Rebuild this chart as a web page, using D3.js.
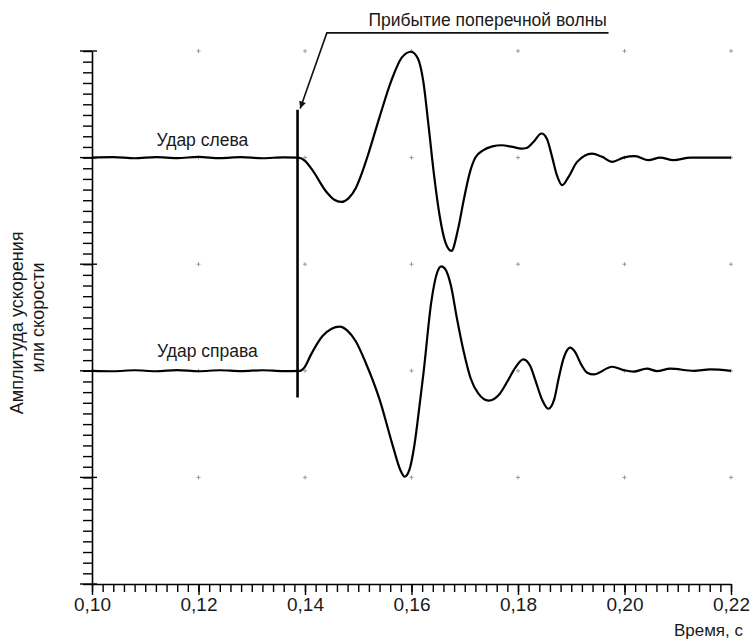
<!DOCTYPE html>
<html>
<head>
<meta charset="utf-8">
<script src="https://cdn.jsdelivr.net/npm/d3@7"></script>
<style>
  body { margin: 0; background: #fff; }
  text { font-family: "Liberation Sans", Arial, sans-serif; fill: #1a1a1a; }
</style>
</head>
<body>
<script>
const width = 756;
const height = 641;
const margin = ({top: 51, right: 25, bottom: 57, left: 92});

// time axis, s
const xTicks = [0.10, 0.12, 0.14, 0.16, 0.18, 0.20, 0.22];
const xTickLabels = ["0,10", "0,12", "0,14", "0,16", "0,18", "0,20", "0,22"];
const yTicks = [0, 1, 2, 3, 4, 5];

// trace offsets on the amplitude axis
const leftBase = 4;
const rightBase = 2;

// "Удар слева"
const leftTime = [0.100, 0.104, 0.108, 0.112, 0.116, 0.120, 0.124, 0.128, 0.132, 0.136, 0.1388,
  0.1400, 0.1414, 0.1440, 0.1455, 0.1468, 0.1482, 0.1496, 0.1508, 0.1518, 0.1540, 0.1562, 0.1582,
  0.1599, 0.1612, 0.1622, 0.1632, 0.1642, 0.1653, 0.1664, 0.1675, 0.1687, 0.1698, 0.1709, 0.1720,
  0.1735, 0.1752, 0.1769, 0.1790, 0.1806, 0.1816, 0.1829, 0.1844, 0.1854, 0.1864, 0.1873, 0.1883,
  0.1895, 0.1911, 0.1939, 0.1958, 0.1977, 0.1998, 0.2020, 0.2045, 0.2067, 0.2092, 0.2124, 0.2160,
  0.2200];
const leftAmp = [0, 0.004, -0.006, 0.005, -0.004, 0.006, -0.005, 0.004, -0.006, 0.003, 0,
  -0.03, -0.118, -0.32, -0.395, -0.416, -0.38, -0.28, -0.13, 0.02, 0.38, 0.72, 0.94,
  0.993, 0.93, 0.72, 0.30, -0.15, -0.55, -0.80, -0.875, -0.68, -0.40, -0.15, 0,
  0.07, 0.105, 0.116, 0.10, 0.085, 0.09, 0.147, 0.226, 0.18, 0.007, -0.165, -0.259,
  -0.18, -0.04, 0.038, 0.007, -0.04, 0, 0.013, -0.024, 0, -0.024, 0, 0,
  0];

// "Удар справа"
const rightTime = [0.100, 0.104, 0.108, 0.112, 0.116, 0.120, 0.124, 0.128, 0.132, 0.136, 0.1390,
  0.1400, 0.1410, 0.1433, 0.1450, 0.1465, 0.1480, 0.1495, 0.1514, 0.1540, 0.1565, 0.1579, 0.1587,
  0.1596, 0.1606, 0.1615, 0.1623, 0.1637, 0.1648, 0.1656, 0.1664, 0.1674, 0.1685, 0.1698, 0.1711,
  0.1725, 0.1745, 0.1765, 0.1780, 0.1795, 0.1810, 0.1823, 0.1832, 0.1845, 0.1857, 0.1868, 0.1876,
  0.1885, 0.1898, 0.1908, 0.1917, 0.1930, 0.1942, 0.1977, 0.1998, 0.2017, 0.2042, 0.2061, 0.2086,
  0.2130, 0.2161, 0.2200];
const rightAmp = [0, -0.004, 0.005, -0.004, 0.006, -0.004, 0.005, -0.003, 0.005, -0.003, 0,
  0.04, 0.14, 0.326, 0.395, 0.414, 0.375, 0.28, 0.076, -0.268, -0.706, -0.93, -0.994,
  -0.93, -0.68, -0.33, 0, 0.64, 0.92, 0.98, 0.95, 0.80, 0.50, 0.18, -0.07,
  -0.21, -0.28, -0.22, -0.10, 0.03, 0.107, 0.044, -0.08, -0.268, -0.356, -0.268, -0.08,
  0.107, 0.217, 0.17, 0.076, -0.018, -0.034, 0.038, 0.007, -0.008, 0.02, -0.003, 0.02,
  0, 0.013, 0];

// arrival of the shear wave
const arrivalTime = 0.1386;
const arrivalSpan = [1.75, 4.45];
const arrowFrom = [0.1441, 5.17];
const arrowTo = [0.1391, 4.46];
const noteEnd = 0.1970;

const svg = d3.select("body")
  .append("svg")
  .attr("width", width)
  .attr("height", height);

svg.append("defs").append("marker")
  .attr("id", "arrow")
  .attr("viewBox", "0 0 10 10")
  .attr("refX", 10)
  .attr("refY", 5)
  .attr("markerWidth", 13)
  .attr("markerHeight", 7)
  .attr("markerUnits", "userSpaceOnUse")
  .attr("orient", "auto")
  .append("path")
  .attr("d", "M0,0L10,5L0,10z")
  .attr("fill", "#111");

const x = d3.scaleLinear()
  .domain([0.10, 0.22])
  .range([margin.left, width - margin.right]);

const y = d3.scaleLinear()
  .domain([0, 5])
  .range([height - margin.bottom, margin.top]);

// grid crosses at major intersections
const cross = [];
xTicks.slice(1).forEach(t => yTicks.slice(1).forEach(v => cross.push([t, v])));
svg.append("g")
  .attr("stroke", "#9a9a9a")
  .attr("stroke-width", 1)
  .selectAll("path")
  .data(cross)
  .join("path")
  .attr("d", d => `M${x(d[0]) - 2},${y(d[1])}h4M${x(d[0])},${y(d[1]) - 2}v4`);

// x axis
const minorX = d3.range(0, 61).map(i => 0.10 + i * 0.002);
svg.append("g")
  .attr("transform", `translate(0,${y(0)})`)
  .call(d3.axisBottom(x).tickValues(minorX).tickSize(8).tickFormat("").tickSizeOuter(0))
  .call(g => g.select(".domain").attr("stroke-width", 1.6))
  .call(g => g.selectAll(".tick line").attr("stroke-width", 1.4));

svg.append("g")
  .attr("transform", `translate(0,${y(0)})`)
  .call(d3.axisBottom(x).tickValues(xTicks).tickSize(11).tickFormat((d, i) => xTickLabels[i]))
  .call(g => g.select(".domain").remove())
  .call(g => g.selectAll(".tick line").attr("stroke-width", 1.4))
  .call(g => g.selectAll(".tick text")
    .attr("y", 14)
    .attr("font-size", 19)
    .attr("font-family", "'Liberation Sans', Arial, sans-serif"));

// y axis
const minorY = d3.range(0, 51).map(i => i * 0.1);
svg.append("g")
  .attr("transform", `translate(${x(0.10)},0)`)
  .call(d3.axisLeft(y).tickValues(minorY).tickSize(9).tickFormat("").tickSizeOuter(0))
  .call(g => g.select(".domain").attr("stroke-width", 1.6))
  .call(g => g.selectAll(".tick line").attr("stroke-width", 1.4));

svg.append("g")
  .attr("stroke", "#000")
  .attr("stroke-width", 1.4)
  .selectAll("line")
  .data(yTicks)
  .join("line")
  .attr("x1", x(0.10) - 12)
  .attr("x2", x(0.10) + 5)
  .attr("y1", d => y(d))
  .attr("y2", d => y(d));

// traces
const line = d3.line()
  .x(d => x(d[0]))
  .y(d => y(d[1]))
  .curve(d3.curveMonotoneX);

const traces = [
  leftTime.map((t, i) => [t, leftBase + leftAmp[i]]),
  rightTime.map((t, i) => [t, rightBase + rightAmp[i]])
];

svg.append("g")
  .selectAll("path")
  .data(traces)
  .join("path")
  .attr("d", line)
  .attr("fill", "none")
  .attr("stroke", "#000")
  .attr("stroke-width", 2.2)
  .attr("stroke-linejoin", "round");

// arrival marker
svg.append("line")
  .attr("x1", x(arrivalTime)).attr("x2", x(arrivalTime))
  .attr("y1", y(arrivalSpan[1])).attr("y2", y(arrivalSpan[0]))
  .attr("stroke", "#000")
  .attr("stroke-width", 2.6);

svg.append("path")
  .attr("d", `M${x(noteEnd)},${y(arrowFrom[1])}H${x(arrowFrom[0])}L${x(arrowTo[0])},${y(arrowTo[1])}`)
  .attr("fill", "none")
  .attr("stroke", "#111")
  .attr("stroke-width", 1.6)
  .attr("marker-end", "url(#arrow)");

svg.append("text")
  .attr("x", (x(arrowFrom[0]) + x(noteEnd)) / 2 + 20)
  .attr("y", y(arrowFrom[1]) - 7)
  .attr("text-anchor", "middle")
  .attr("font-size", 17.5)
  .text("Прибытие поперечной волны");

// trace labels
svg.append("text")
  .attr("x", x(0.1121))
  .attr("y", y(4.11))
  .attr("font-size", 17.5)
  .text("Удар слева");

svg.append("text")
  .attr("x", x(0.1122))
  .attr("y", y(2.13))
  .attr("font-size", 17.5)
  .text("Удар справа");

// axis titles
svg.append("text")
  .attr("transform", `translate(23,${y(2.45)}) rotate(-90)`)
  .attr("text-anchor", "middle")
  .attr("font-size", 18)
  .text("Амплитуда ускорения");

svg.append("text")
  .attr("transform", `translate(44,${y(2.5)}) rotate(-90)`)
  .attr("text-anchor", "middle")
  .attr("font-size", 18)
  .text("или скорости");

svg.append("text")
  .attr("x", width - 13)
  .attr("y", height - 5)
  .attr("text-anchor", "end")
  .attr("font-size", 17)
  .text("Время, с");
</script>
</body>
</html>
